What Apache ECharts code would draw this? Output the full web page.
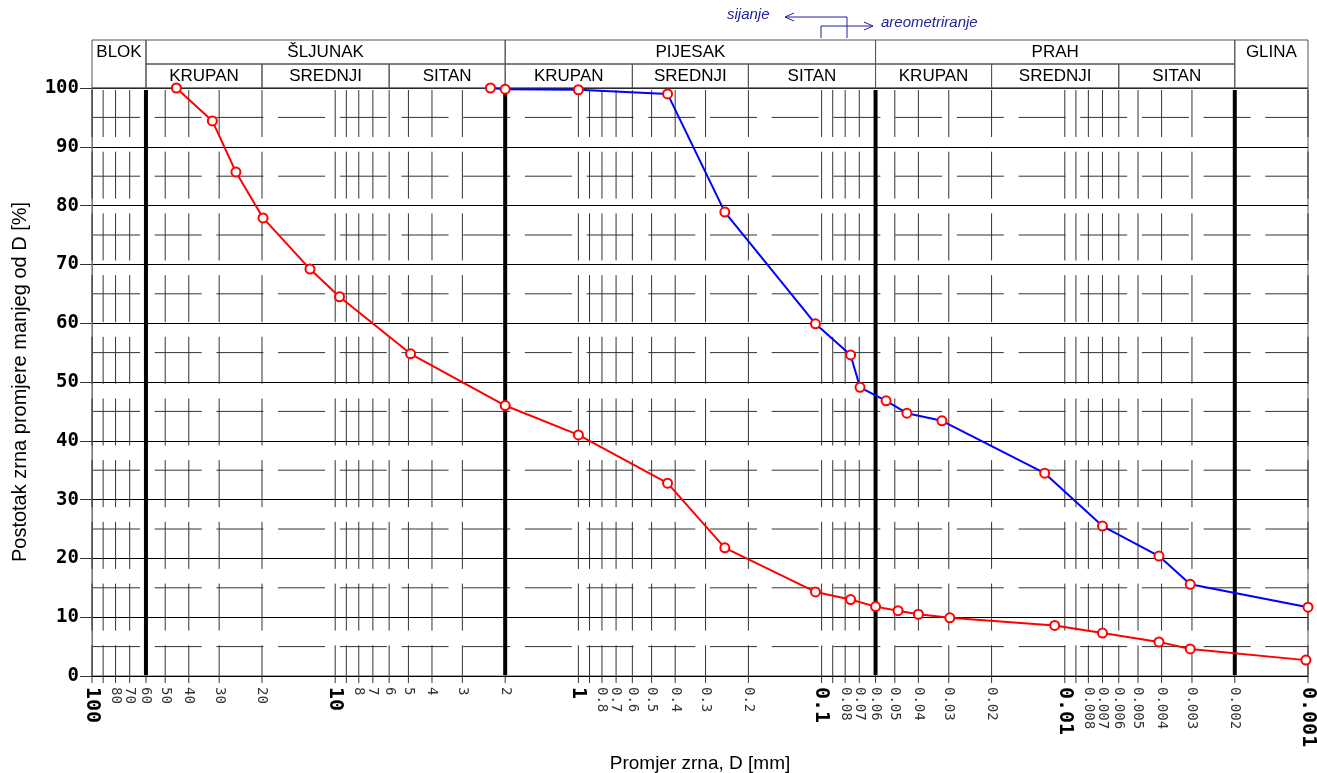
<!DOCTYPE html>
<html>
<head>
<meta charset="utf-8">
<title>Granulometrijski dijagram</title>
<script src="https://cdn.jsdelivr.net/npm/echarts@6/dist/echarts.min.js"></script>
<style>
  html, body { margin: 0; padding: 0; background: #fff; }
  #main { width: 1317px; height: 773px; }
</style>
</head>
<body>
<div id="main"></div>
<script type="text/javascript">
// sijanje (crveno)
var sitoD   = [45, 32, 25.6, 19.8, 12.7, 9.6, 4.9, 2.0, 1.0, 0.43, 0.25, 0.106, 0.076, 0.06, 0.0485, 0.040, 0.0297, 0.011, 0.0070, 0.0041, 0.00305, 0.00102];
var sitoPct = [100, 94.4, 85.7, 77.9, 69.2, 64.5, 54.8, 46.0, 41.0, 32.8, 21.8, 14.3, 13.0, 11.8, 11.1, 10.5, 9.9, 8.6, 7.3, 5.8, 4.6, 2.7];

// areometriranje (plavo)
var areoD   = [2.3, 2.0, 1.0, 0.43, 0.25, 0.106, 0.076, 0.0695, 0.0543, 0.0446, 0.032, 0.0121, 0.0070, 0.0041, 0.00305, 0.001];
var areoPct = [100, 99.8, 99.7, 99.0, 78.9, 59.9, 54.6, 49.1, 46.8, 44.7, 43.4, 34.5, 25.5, 20.4, 15.6, 11.7];

// os x (mm)
var xTicks = [100, 90, 80, 70, 60, 50, 40, 30, 20,
              10, 9, 8, 7, 6, 5, 4, 3, 2,
              1, 0.9, 0.8, 0.7, 0.6, 0.5, 0.4, 0.3, 0.2,
              0.1, 0.09, 0.08, 0.07, 0.06, 0.05, 0.04, 0.03, 0.02,
              0.01, 0.009, 0.008, 0.007, 0.006, 0.005, 0.004, 0.003, 0.002,
              0.001];
var xDecades = [100, 10, 1, 0.1, 0.01, 0.001];
var xNoLabel = [90, 9, 0.9, 0.09, 0.009];
var yHalf = [5, 15, 25, 35, 45, 55, 65, 75, 85, 95];

// granice frakcija
var boundaries = [60, 2, 0.06, 0.002];
var fractionNames  = ['BLOK', 'ŠLJUNAK', 'PIJESAK', 'PRAH', 'GLINA'];
var fractionBounds = [100, 60, 2, 0.06, 0.002, 0.001];
var subNames  = ['KRUPAN', 'SREDNJI', 'SITAN'];
var subBounds = [60, 20, 6, 2, 0.6, 0.2, 0.06, 0.02, 0.006, 0.002];

function zip(a, b) {
  return a.map(function (v, i) { return [v, b[i]]; });
}

// zaglavlje tablice
var headerData = [], headerText = [];
fractionNames.forEach(function (n, i) {
  var full = (i === 0 || i === fractionNames.length - 1) ? 1 : 0;
  headerData.push([fractionBounds[i], fractionBounds[i + 1], full]);
  headerText.push(n);
});
for (var k = 0; k < subBounds.length - 1; k++) {
  headerData.push([subBounds[k], subBounds[k + 1], 2]);
  headerText.push(subNames[k % 3]);
}

var myChart = echarts.init(document.getElementById('main'));

var LINE = '#333';
var DASH = [47, 14.7];

function renderVTick(params, api) {
  var v = api.value(0);
  var top = api.coord([v, 100]);
  var bot = api.coord([v, 0]);
  var x = top[0];
  var kids = [
    { type: 'line', shape: { x1: x, y1: top[1] + 2, x2: x, y2: bot[1] },
      style: { stroke: LINE, lineWidth: 1, lineDash: DASH } },
    { type: 'line', shape: { x1: x, y1: bot[1], x2: x, y2: bot[1] + 7 },
      style: { stroke: LINE, lineWidth: 1 } }
  ];
  if (xNoLabel.indexOf(v) < 0) {
    var big = xDecades.indexOf(v) >= 0;
    kids.push({
      type: 'text', x: x, y: bot[1] + 11, rotation: -Math.PI / 2,
      style: {
        text: String(v),
        font: big ? 'bold 20px "DejaVu Sans Mono"' : '14px "DejaVu Sans Mono"',
        fill: big ? '#000' : '#333',
        align: 'left', verticalAlign: 'middle'
      }
    });
  }
  return { type: 'group', children: kids };
}

function renderHHalf(params, api) {
  var v = api.value(1);
  var a = api.coord([100, v]);
  var b = api.coord([0.001, v]);
  return { type: 'line', shape: { x1: a[0] + 1, y1: a[1], x2: b[0], y2: b[1] },
    style: { stroke: LINE, lineWidth: 1, lineDash: DASH } };
}

function renderBound(params, api) {
  var v = api.value(0);
  var top = api.coord([v, 100]);
  var bot = api.coord([v, 0]);
  return { type: 'line', shape: { x1: top[0], y1: top[1] + 2, x2: bot[0], y2: bot[1] - 1 },
    style: { stroke: '#000', lineWidth: 4 } };
}

function renderHeader(params, api) {
  var p1 = api.coord([api.value(0), 100]);
  var p2 = api.coord([api.value(1), 100]);
  var kind = api.value(2);
  var base = p1[1];
  var y1 = kind === 2 ? base - 24 : base - 48;
  var y2 = kind === 0 ? base - 24 : base;
  var ty = kind === 2 ? base - 12 : base - 36;
  return {
    type: 'group',
    children: [
      { type: 'rect', shape: { x: p1[0], y: y1, width: p2[0] - p1[0], height: y2 - y1 },
        style: { fill: 'none', stroke: '#555', lineWidth: 1 } },
      { type: 'text', x: (p1[0] + p2[0]) / 2, y: ty,
        style: { text: headerText[params.dataIndex], font: '17px "Liberation Sans"',
                 fill: '#000', align: 'center', verticalAlign: 'middle' } }
    ]
  };
}

var annColor = '#22229a';

option = {
  animation: false,
  grid: {
    left: 92, right: 9, top: 88, bottom: 97,
    outerBoundsMode: 'none',
    show: true, borderColor: '#555', borderWidth: 1
  },
  xAxis: {
    type: 'log', logBase: 10, min: 0.001, max: 100, inverse: true,
    name: 'Promjer zrna, D [mm]', nameLocation: 'middle', nameGap: 78,
    nameTextStyle: { fontFamily: 'Liberation Sans', fontSize: 19, color: '#000' },
    axisLine: { show: true, lineStyle: { color: '#000', width: 1 } },
    axisTick: { show: false },
    axisLabel: { show: false },
    splitLine: { show: false },
    minorSplitLine: { show: false }
  },
  yAxis: {
    type: 'value', min: 0, max: 100, interval: 10,
    name: 'Postotak zrna promjere manjeg od D [%]', nameLocation: 'middle', nameGap: 62,
    nameTextStyle: { fontFamily: 'Liberation Sans', fontSize: 20, color: '#000' },
    axisLine: { show: true, lineStyle: { color: '#777', width: 1 } },
    axisTick: { show: true, length: 12, lineStyle: { color: '#333' } },
    axisLabel: { margin: 13, color: '#000', fontFamily: 'DejaVu Sans Mono', fontWeight: 'bold', fontSize: 19 },
    splitLine: { show: true, lineStyle: { color: '#000', width: 1 } }
  },
  graphic: [
    { type: 'text', x: 727, y: 15,
      style: { text: 'sijanje', font: 'italic 15px "Liberation Sans"', fill: annColor, align: 'left', verticalAlign: 'middle' } },
    { type: 'polyline', shape: { points: [[847, 38], [847, 17], [785, 17]] },
      style: { stroke: annColor, lineWidth: 1, fill: null } },
    { type: 'polyline', shape: { points: [[794, 13], [785, 17], [794, 21]] },
      style: { stroke: annColor, lineWidth: 1, fill: null } },
    { type: 'polyline', shape: { points: [[821, 38], [821, 26], [873, 26]] },
      style: { stroke: annColor, lineWidth: 1, fill: null } },
    { type: 'polyline', shape: { points: [[864, 22], [873, 26], [864, 30]] },
      style: { stroke: annColor, lineWidth: 1, fill: null } },
    { type: 'text', x: 881, y: 23,
      style: { text: 'areometriranje', font: 'italic 15px "Liberation Sans"', fill: annColor, align: 'left', verticalAlign: 'middle' } }
  ],
  series: [
    { type: 'custom', z: 1, silent: true, renderItem: renderVTick,
      data: xTicks.map(function (v) { return [v, 0]; }) },
    { type: 'custom', z: 1, silent: true, renderItem: renderHHalf,
      data: yHalf.map(function (v) { return [1, v]; }) },
    { type: 'custom', z: 2, silent: true, renderItem: renderBound,
      data: boundaries.map(function (v) { return [v, 0]; }) },
    { type: 'custom', z: 2, silent: true, renderItem: renderHeader,
      encode: { x: [0, 1] },
      data: headerData },
    { name: 'sijanje', type: 'line', z: 5, data: zip(sitoD, sitoPct),
      symbol: 'circle', symbolSize: 9, showAllSymbol: true,
      lineStyle: { color: '#ff0000', width: 2 },
      itemStyle: { color: '#fff', borderColor: '#ff0000', borderWidth: 2 },
      emphasis: { disabled: true } },
    { name: 'areometriranje', type: 'line', z: 5, data: zip(areoD, areoPct),
      symbol: 'circle', symbolSize: 9, showAllSymbol: true,
      lineStyle: { color: '#0000ff', width: 2 },
      itemStyle: { color: '#fff', borderColor: '#ff0000', borderWidth: 2 },
      emphasis: { disabled: true } }
  ]
};

myChart.setOption(option);
</script>
</body>
</html>
